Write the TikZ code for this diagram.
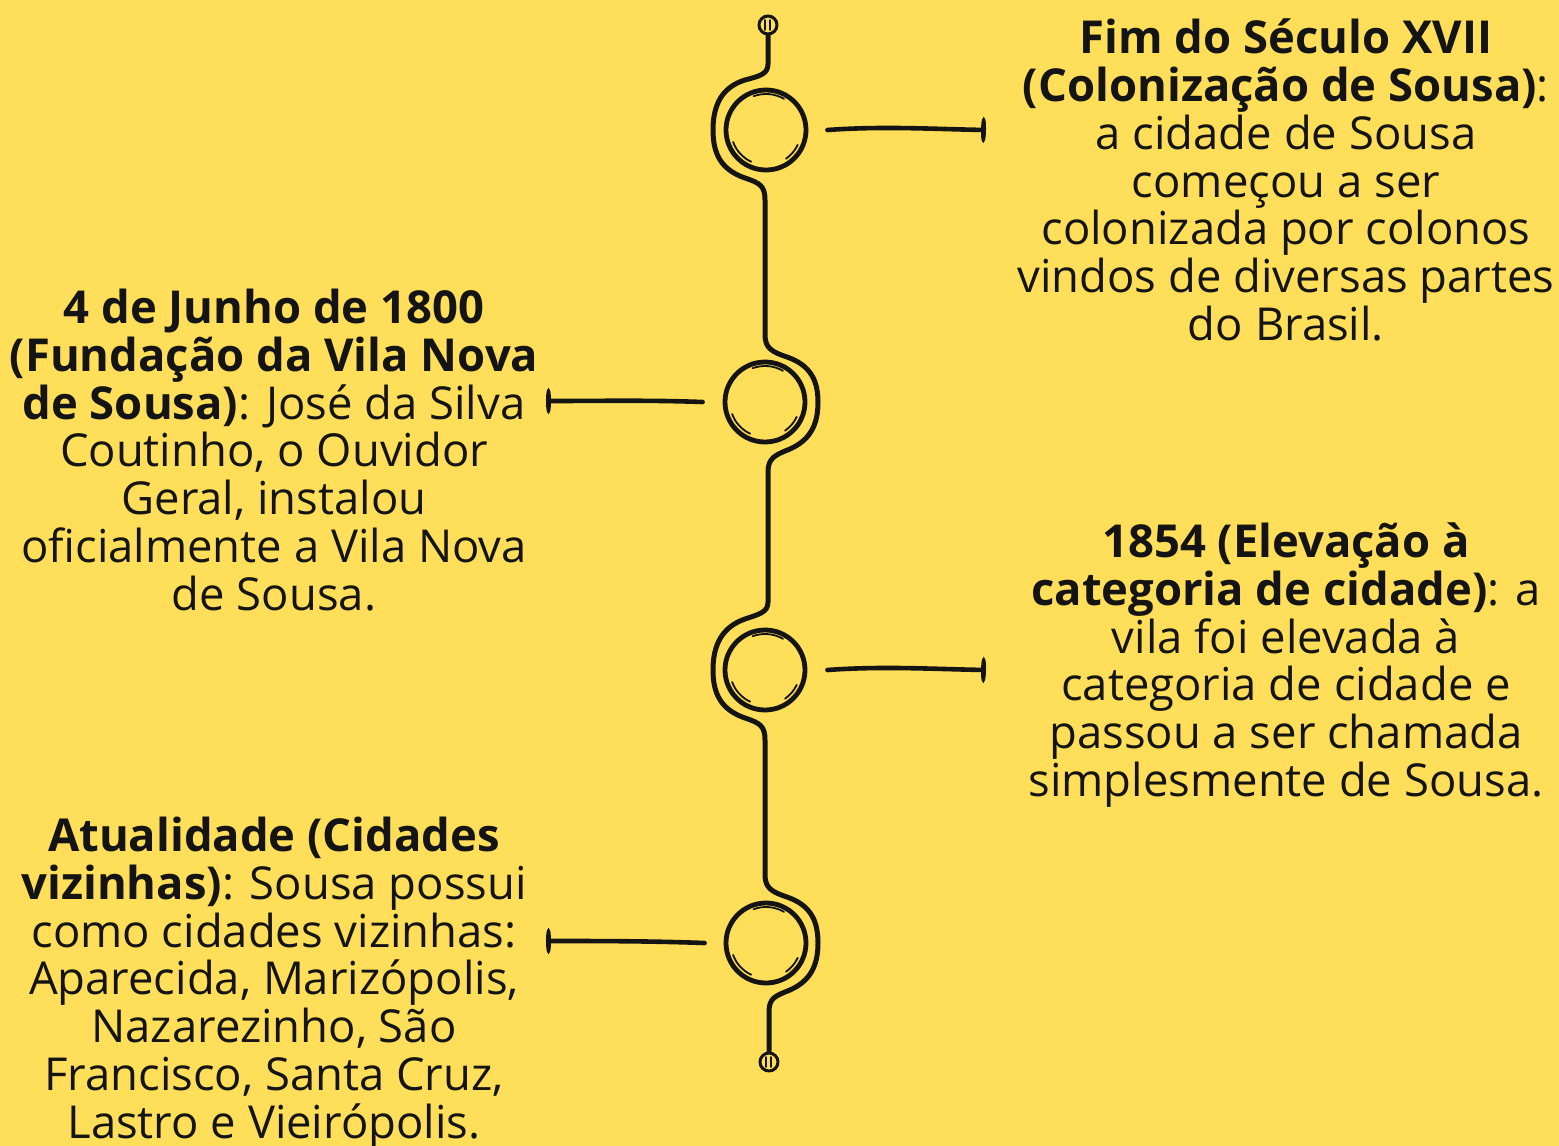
\documentclass[tikz,border=0pt]{standalone}
\usepackage{fontspec}
\setmainfont{Open Sans}
\usetikzlibrary{arrows.meta,positioning}
\definecolor{bgyellow}{HTML}{FFDE59}
\definecolor{ink}{HTML}{141414}

\begin{document}
\begin{tikzpicture}[x=0.5pt,y=-0.5pt,line cap=round,line join=round,
  ring/.style={circle,draw=ink,line width=2.4pt,minimum size=40pt,inner sep=0pt},
  knob/.style={circle,draw=ink,line width=1.5pt,minimum size=9pt,inner sep=0pt},
  spine/.style={draw=ink,line width=2.5pt},
  sketch/.style={draw=ink,line width=0.9pt},
  link/.style={draw=ink,line width=2.3pt,-{Ellipse[length=2.5pt,width=12pt]}},
  note/.style={align=center,text=ink,inner sep=0pt,font=\fontsize{22.7}{23.9}\selectfont}]
\fill[bgyellow] (0,0) rectangle (1559,1146);
\useasboundingbox (0,0) rectangle (1559,1146);

% rings and end knobs
\node[knob] (topend) at (768,25) {};
\node[ring] (ring1) at (766,130) {};
\node[ring] (ring2) at (765,402) {};
\node[ring] (ring3) at (765,670) {};
\node[ring] (ring4) at (766,943) {};
\node[knob] (botend) at (769,1062) {};

\foreach \r in {ring1,ring2,ring3,ring4}{
  \draw[sketch] ([shift={(115:35)}]\r.center) arc[start angle=115,end angle=160,radius=35];
  \draw[sketch] ([shift={(25:35)}]\r.center) arc[start angle=25,end angle=55,radius=35];
  \draw[sketch] ([shift={(250:36)}]\r.center) arc[start angle=250,end angle=300,radius=36];
}
\foreach \k in {topend,botend}{
  \draw[sketch] ([shift={(-3,-5)}]\k.center) -- ([shift={(-3,5)}]\k.center);
  \draw[sketch] ([shift={(2,-5)}]\k.center) -- ([shift={(2,5)}]\k.center);
}

% the wavy spine
\draw[spine] (topend.south) -- (768,64)
  .. controls (768,74) and (760,76) .. (745,80)
  .. controls (722,87) and (713,105) .. (713,130)
  .. controls (713,155) and (722,170) .. (745,178)
  .. controls (760,183) and (765,186) .. (765,200) -- (765,335)
  .. controls (765,348) and (772,352) .. (787,357)
  .. controls (810,365) and (818,380) .. (818,402)
  .. controls (818,425) and (810,440) .. (790,449)
  .. controls (775,455) and (768,458) .. (768,472) -- (768,602)
  .. controls (768,612) and (760,614) .. (745,619)
  .. controls (722,627) and (713,645) .. (713,670)
  .. controls (713,695) and (722,710) .. (745,718)
  .. controls (760,723) and (765,726) .. (765,740) -- (765,875)
  .. controls (765,888) and (772,892) .. (787,897)
  .. controls (810,905) and (818,920) .. (818,943)
  .. controls (818,966) and (810,981) .. (790,990)
  .. controls (775,996) and (769,998) .. (769,1012) -- (botend.north);

% connectors
\coordinate (tick1) at (986,130);
\coordinate (tick2) at (546,401);
\coordinate (tick3) at (986,670);
\coordinate (tick4) at (546,941);
\draw[link] ([shift={(19,0)}]ring1.east) .. controls +(55,-4) and +(-55,-1) .. (tick1);
\draw[link] ([shift={(-20,0)}]ring2.west) .. controls +(-55,-2) and +(55,0) .. (tick2);
\draw[link] ([shift={(20,0)}]ring3.east) .. controls +(55,-4) and +(-55,-1) .. (tick3);
\draw[link] ([shift={(-19,0)}]ring4.west) .. controls +(-55,-2) and +(55,0) .. (tick4);

% texts
\node[note] (fim) at (1286,180) {\textbf{Fim do Século XVII}\\
  \textbf{(Colonização de Sousa)}:\\a cidade de Sousa\\começou a ser\\
  colonizada por colonos\\vindos de diversas partes\\do Brasil.};
\node[note] (fundacao) at (274,450) {\textbf{4 de Junho de 1800}\\
  \textbf{(Fundação da Vila Nova}\\\textbf{de Sousa)}: José da Silva\\
  Coutinho, o Ouvidor\\Geral, instalou\\oficialmente a Vila Nova\\de Sousa.};
\node[note] (elevacao) at (1286,665) {\textbf{1854 (Elevação à}\\
  \textbf{categoria de cidade)}: a\\vila foi elevada à\\categoria de cidade e\\
  passou a ser chamada\\simplesmente de Sousa.};
\node[note] (atualidade) at (274,983) {\textbf{Atualidade (Cidades}\\
  \textbf{vizinhas)}: Sousa possui\\como cidades vizinhas:\\Aparecida, Marizópolis,\\
  Nazarezinho, São\\Francisco, Santa Cruz,\\Lastro e Vieirópolis.};
\end{tikzpicture}
\end{document}
